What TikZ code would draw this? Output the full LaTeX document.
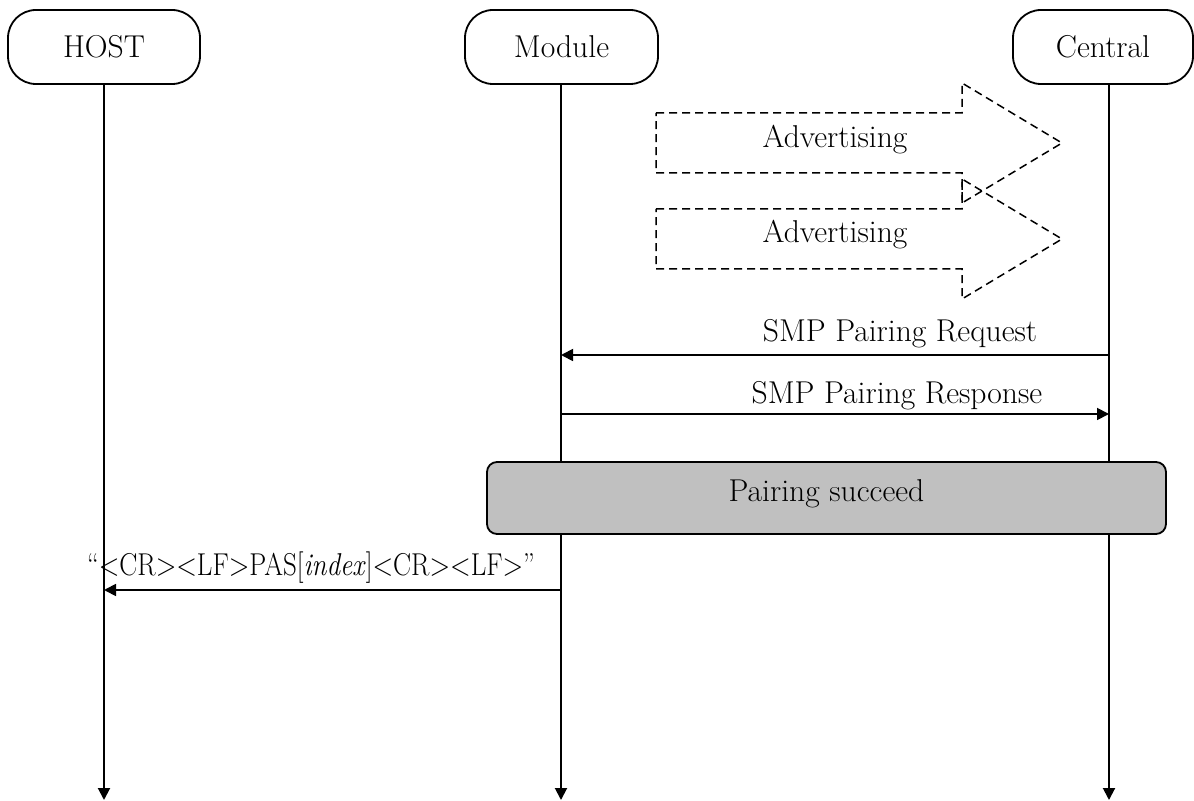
\documentclass[tikz,border=0pt]{standalone}
\usetikzlibrary{arrows.meta}
\begin{document}
\begin{tikzpicture}[x=0.5pt,y=-0.5pt,
  actor/.style={draw,line width=0.9pt,rounded corners=14pt,minimum height=37pt,inner sep=0pt,font=\fontsize{15.8}{19}\selectfont},
  life/.style={line width=1pt,-{Triangle[length=6pt,width=6pt]}},
  msg/.style={line width=0.9pt,-{Triangle[length=6pt,width=6pt]}},
  adv/.style={line width=0.75pt,dash pattern=on 4pt off 2.5pt},
  lbl/.style={font=\fontsize{15.8}{19}\selectfont,inner sep=0pt},
  okbox/.style={draw,line width=0.9pt,fill={rgb,255:red,192;green,192;blue,192},rounded corners=5pt,minimum width=339.5pt,minimum height=36pt}]
\useasboundingbox (0,0) rectangle (1194,801);
% actors
\node[actor,minimum width=96pt] (host) at (104,47) {HOST};
\node[actor,minimum width=96.5pt] (module) at (561.5,47) {Module};
\node[actor,minimum width=90pt] (central) at (1103,47) {Central};
% lifelines
\coordinate (ctop) at (1109,84);
\coordinate (hend) at (104,800);
\coordinate (mend) at (561,800);
\coordinate (cend) at (1109,800);
\draw[life] (host.south) -- (hend);
\draw[life] (module.south -| mend) -- (mend);
\draw[life] (ctop) -- (cend);
% advertising arrows
\draw[adv] (656,113) -- (962,113) -- (962,83) -- (1062,143) -- (962,203) -- (962,173) -- (656,173) -- cycle;
\draw[adv] (656,209) -- (962,209) -- (962,179) -- (1062,239) -- (962,299) -- (962,269) -- (656,269) -- cycle;
\node[lbl] (adv1) at (835,140) {Advertising};
\node[lbl] (adv2) at (835,235) {Advertising};
% SMP messages
\coordinate (reqc) at (1109,355);
\coordinate (reqm) at (561,355);
\coordinate (resm) at (561,414);
\coordinate (resc) at (1109,414);
\draw[msg] (reqc) -- (reqm);
\node[lbl] (reqlbl) at (900,334) {SMP Pairing Request};
\draw[msg] (resm) -- (resc);
\node[lbl] (reslbl) at (897,396) {SMP Pairing Response};
% pairing succeed
\node[okbox] (ok) at (826.5,498) {};
\node[lbl] (oklbl) at (826.5,494) {Pairing succeed};
% PAS
\coordinate (pasm) at (561,590);
\coordinate (pash) at (104,590);
\draw[msg] (pasm) -- (pash);
\node[lbl] (paslbl) at (311,568) {\scalebox{0.855}[1]{“<CR><LF>PAS[\textit{index}]<CR><LF>”}};
\end{tikzpicture}
\end{document}
